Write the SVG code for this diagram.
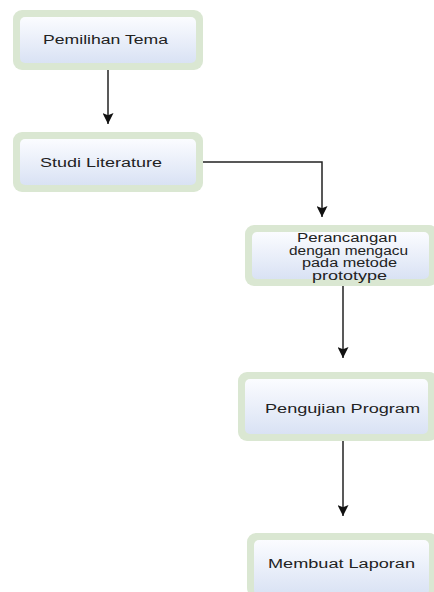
<svg xmlns="http://www.w3.org/2000/svg" width="434" height="592" viewBox="0 0 434 592">
<defs>
<linearGradient id="fillg" x1="0" y1="0" x2="0" y2="1">
<stop offset="0" stop-color="#fbfcff"/>
<stop offset="1" stop-color="#d9e2f4"/>
</linearGradient>
<marker id="ah" viewBox="0 0 12 12" refX="12" refY="6" markerWidth="12" markerHeight="11" markerUnits="userSpaceOnUse" orient="auto">
<path d="M0,0 L12,6 L0,12 L2.5,6 z" fill="#111"/>
</marker>
<style>
.outer{fill:#dae7d2}
.inner{fill:url(#fillg)}
.lbl{font-family:"Liberation Sans",Arial,sans-serif;font-size:12.5px;fill:#222}
.sm{font-size:12px}
.conn{fill:none;stroke:#222;stroke-width:1.5;marker-end:url(#ah)}
</style>
</defs>
<rect width="434" height="592" fill="#ffffff"/>
<g id="connectors">
<path class="conn" d="M108,70 L108,124"/>
<path class="conn" d="M203,162 L322,162 L322,217"/>
<path class="conn" d="M343,286 L343,358"/>
<path class="conn" d="M343,441 L343,516"/>
</g>
<g id="node-pemilihan">
<rect class="outer" x="13" y="10" width="190" height="60" rx="9"/>
<rect class="inner" x="20" y="17" width="176" height="46" rx="5"/>
<text class="lbl" x="43" y="44" textLength="125" lengthAdjust="spacingAndGlyphs">Pemilihan Tema</text>
</g>
<g id="node-studi">
<rect class="outer" x="13" y="132" width="190" height="60" rx="9"/>
<rect class="inner" x="20" y="139" width="176" height="46" rx="5"/>
<text class="lbl" x="40" y="167" textLength="122" lengthAdjust="spacingAndGlyphs">Studi Literature</text>
</g>
<g id="node-perancangan">
<rect class="outer" x="245" y="225" width="193" height="61" rx="9"/>
<rect class="inner" x="252" y="232" width="177" height="47" rx="5"/>
<text class="lbl sm" x="297" y="242" textLength="100" lengthAdjust="spacingAndGlyphs">Perancangan</text>
<text class="lbl sm" x="289" y="254.5" textLength="119" lengthAdjust="spacingAndGlyphs">dengan mengacu</text>
<text class="lbl sm" x="302" y="267" textLength="95" lengthAdjust="spacingAndGlyphs">pada metode</text>
<text class="lbl sm" x="312" y="279.5" textLength="75" lengthAdjust="spacingAndGlyphs">prototype</text>
</g>
<g id="node-pengujian">
<rect class="outer" x="238" y="372" width="200" height="69" rx="9"/>
<rect class="inner" x="245" y="379" width="183" height="55" rx="5"/>
<text class="lbl" x="265" y="413" textLength="155" lengthAdjust="spacingAndGlyphs">Pengujian Program</text>
</g>
<g id="node-laporan">
<rect class="outer" x="247" y="533" width="191" height="64" rx="9"/>
<rect class="inner" x="254" y="540" width="175" height="55" rx="5"/>
<text class="lbl" x="268" y="568" textLength="147" lengthAdjust="spacingAndGlyphs">Membuat Laporan</text>
</g>
</svg>
